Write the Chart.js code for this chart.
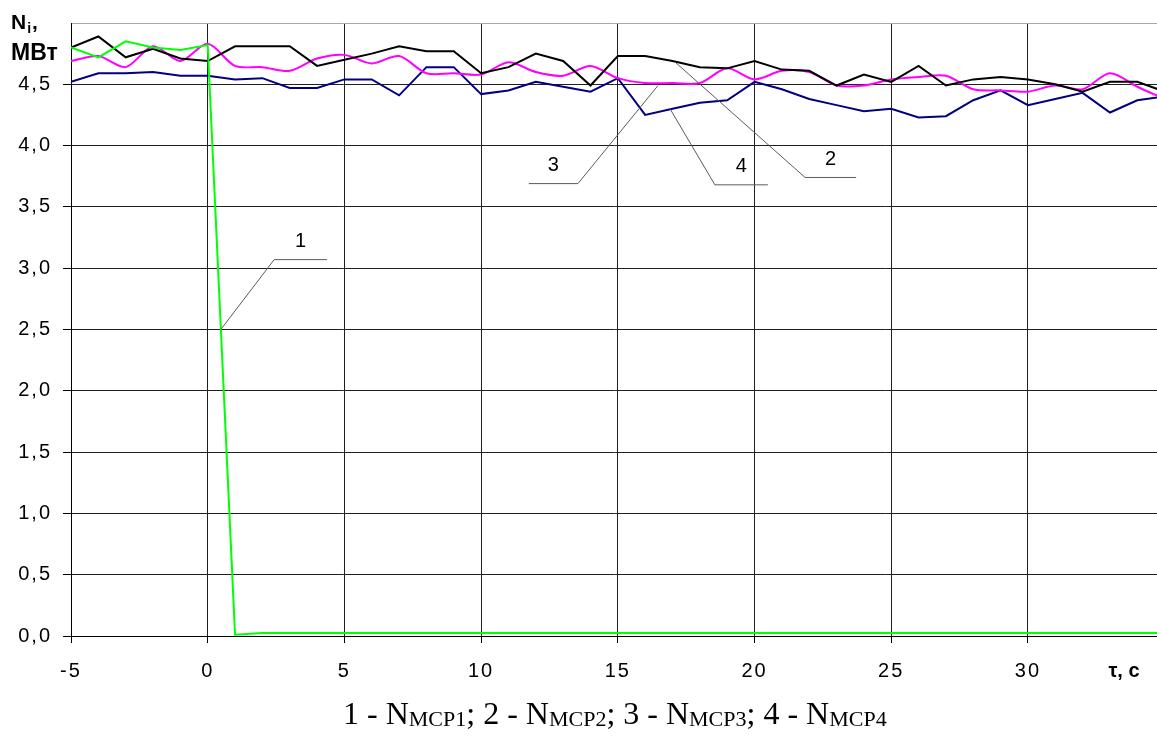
<!DOCTYPE html>
<html>
<head>
<meta charset="utf-8">
<script src="https://cdn.jsdelivr.net/npm/chart.js@4.4.1/dist/chart.umd.min.js"></script>
<style>
  html, body { margin: 0; padding: 0; background: #fff; }
  #wrap { position: relative; width: 1157px; height: 742px; overflow: hidden; }
  canvas { display: block; }
  .caption {
    position: absolute; left: 343px; top: 694px;
    font-family: "Liberation Serif", "Times New Roman", serif;
    font-size: 32px; line-height: 38px; white-space: nowrap; color: #000;
  }
  .caption span { font-size: 22px; vertical-align: -2px; }
</style>
</head>
<body>
<div id="wrap">
  <canvas id="chart" width="1157" height="742"></canvas>
  <div class="caption">1 - N<span>MCP1</span>; 2 - N<span>MCP2</span>; 3 - N<span>MCP3</span>; 4 - N<span>MCP4</span></div>
</div>
<script>
// time, s
const time = [-5, -4, -3, -2, -1, 0, 1, 2, 3, 4, 5, 6, 7, 8, 9, 10, 11, 12, 13, 14, 15,
              16, 17, 18, 19, 20, 21, 22, 23, 24, 25, 26, 27, 28, 29, 30, 31, 32, 33, 34, 35];

// pump power N, MW
const nMcp1 = [4.80, 4.72, 4.85, 4.80, 4.78, 4.82, 0.01, 0.025, 0.025, 0.025, 0.025, 0.025, 0.025, 0.025,
               0.025, 0.025, 0.025, 0.025, 0.025, 0.025, 0.025, 0.025, 0.025, 0.025, 0.025, 0.025, 0.025,
               0.025, 0.025, 0.025, 0.025, 0.025, 0.025, 0.025, 0.025, 0.025, 0.025, 0.025, 0.025, 0.025, 0.025];
const nMcp2 = [4.80, 4.89, 4.72, 4.79, 4.71, 4.69, 4.81, 4.81, 4.81, 4.65, 4.70, 4.75, 4.81, 4.77,
               4.77, 4.59, 4.64, 4.75, 4.69, 4.49, 4.73, 4.73, 4.69, 4.64, 4.63, 4.69, 4.62,
               4.61, 4.49, 4.58, 4.52, 4.65, 4.49, 4.54, 4.56, 4.54, 4.50, 4.44, 4.52, 4.52, 4.44];
const nMcp3 = [4.69, 4.73, 4.64, 4.81, 4.69, 4.83, 4.65, 4.64, 4.61, 4.71, 4.74, 4.67, 4.73, 4.59,
               4.59, 4.58, 4.68, 4.60, 4.57, 4.65, 4.55, 4.51, 4.51, 4.51, 4.63, 4.54, 4.61,
               4.60, 4.49, 4.49, 4.54, 4.56, 4.57, 4.46, 4.45, 4.44, 4.49, 4.46, 4.59, 4.48, 4.38];
const nMcp4 = [4.52, 4.59, 4.59, 4.60, 4.57, 4.57, 4.54, 4.55, 4.47, 4.47, 4.54, 4.54, 4.41, 4.64,
               4.64, 4.42, 4.45, 4.52, 4.48, 4.44, 4.55, 4.25, 4.30, 4.35, 4.37, 4.52, 4.46,
               4.38, 4.33, 4.28, 4.30, 4.23, 4.24, 4.37, 4.45, 4.33, 4.38, 4.43, 4.27, 4.37, 4.40];

// axis ticks
const xTicks = [-5, 0, 5, 10, 15, 20, 25, 30];
const yTicks = [0, 0.5, 1, 1.5, 2, 2.5, 3, 3.5, 4, 4.5, 5];

// curve numbers with leader lines: a point on the curve and the bend, in axis units
const calloutText = ['1', '2', '3', '4'];
const calloutPoint = [[0.48, 2.5], [17.1, 4.68], [16.47, 4.49], [16.91, 4.30]];
const calloutBend = [[2.43, 3.07], [21.85, 3.74], [13.54, 3.69], [18.55, 3.68]];
const calloutShelf = [53, 51, -49, 53];

const SANS = '"Liberation Sans", Arial, sans-serif';
const pts = arr => arr.map((v, i) => ({ x: time[i], y: v }));

const callouts = {
  id: 'callouts',
  afterDatasetsDraw(chart) {
    const { ctx, scales: { x, y } } = chart;
    ctx.save();
    ctx.letterSpacing = '0px';
    ctx.strokeStyle = '#5a5a5a';
    ctx.lineWidth = 1;
    ctx.fillStyle = '#000';
    ctx.font = '20px ' + SANS;
    ctx.textAlign = 'center';
    ctx.textBaseline = 'middle';
    calloutText.forEach((txt, i) => {
      const px = x.getPixelForValue(calloutPoint[i][0]);
      const py = y.getPixelForValue(calloutPoint[i][1]);
      const bx = x.getPixelForValue(calloutBend[i][0]);
      const by = y.getPixelForValue(calloutBend[i][1]);
      const ex = bx + calloutShelf[i];
      ctx.beginPath();
      ctx.moveTo(px, py);
      ctx.lineTo(bx, by);
      ctx.lineTo(ex, by);
      ctx.stroke();
      ctx.fillText(txt, (bx + ex) / 2, by - 18);
    });
    ctx.restore();
  }
};

const axisTitles = {
  id: 'axisTitles',
  beforeDraw(chart) { chart.ctx.letterSpacing = '2px'; },
  afterDraw(chart) {
    const ctx = chart.ctx;
    ctx.save();
    ctx.letterSpacing = '0px';
    ctx.fillStyle = '#000';
    ctx.textAlign = 'left';
    ctx.textBaseline = 'alphabetic';
    ctx.font = 'bold 21px ' + SANS;
    ctx.fillText('N', 11, 29);
    const wN = ctx.measureText('N').width;
    ctx.font = 'bold 14px ' + SANS;
    ctx.fillText('i', 11 + wN + 1, 33);
    const wi = ctx.measureText('i').width;
    ctx.font = 'bold 21px ' + SANS;
    ctx.fillText(',', 11 + wN + wi + 2, 29);
    ctx.font = 'bold 23px ' + SANS;
    ctx.fillText('МВт', 11, 60);
    ctx.font = 'bold 20px ' + SANS;
    ctx.textAlign = 'center';
    ctx.textBaseline = 'middle';
    ctx.fillText('τ, с', 1124, 671);
    ctx.restore();
  }
};

new Chart(document.getElementById('chart'), {
  type: 'line',
  data: {
    datasets: [
      { label: 'NMCP1', data: pts(nMcp1), borderColor: '#00ff00', borderWidth: 2, tension: 0 },
      { label: 'NMCP2', data: pts(nMcp2), borderColor: '#000000', borderWidth: 2, tension: 0 },
      { label: 'NMCP3', data: pts(nMcp3), borderColor: '#ff00ff', borderWidth: 2, tension: 0.3 },
      { label: 'NMCP4', data: pts(nMcp4), borderColor: '#000080', borderWidth: 2, tension: 0 }
    ]
  },
  options: {
    responsive: false,
    animation: false,
    events: [],
    elements: { point: { radius: 0 } },
    layout: { padding: { top: 21, left: 0, right: 0, bottom: 0 } },
    plugins: { legend: { display: false }, tooltip: { enabled: false } },
    scales: {
      x: {
        type: 'linear',
        min: -5,
        max: 34.72,
        afterBuildTicks: s => { s.ticks = xTicks.map(v => ({ value: v })); },
        afterFit: s => { s.height = 106; },
        grid: { color: '#202020', lineWidth: 1, tickLength: 7, tickColor: '#000' },
        border: { display: true, color: '#000', width: 1 },
        ticks: {
          autoSkip: false, maxRotation: 0, padding: 16, color: '#000',
          font: { family: SANS, size: 20 },
          callback: v => String(v)
        }
      },
      y: {
        type: 'linear',
        min: 0,
        max: 5,
        afterBuildTicks: s => { s.ticks = yTicks.map(v => ({ value: v })); },
        afterFit: s => { s.width = 71; },
        grid: {
          lineWidth: 1, tickLength: 8,
          color: c => (c.tick && c.tick.value === 5 ? '#a8a8a8' : '#202020'),
          tickColor: c => (c.tick && c.tick.value === 5 ? 'rgba(0,0,0,0)' : '#000')
        },
        border: { display: true, color: '#000', width: 1 },
        ticks: {
          padding: 11, color: '#000',
          font: { family: SANS, size: 20 },
          callback: v => (v === 5 ? '' : v.toFixed(1).replace('.', ','))
        }
      }
    }
  },
  plugins: [callouts, axisTitles]
});
</script>
</body>
</html>
